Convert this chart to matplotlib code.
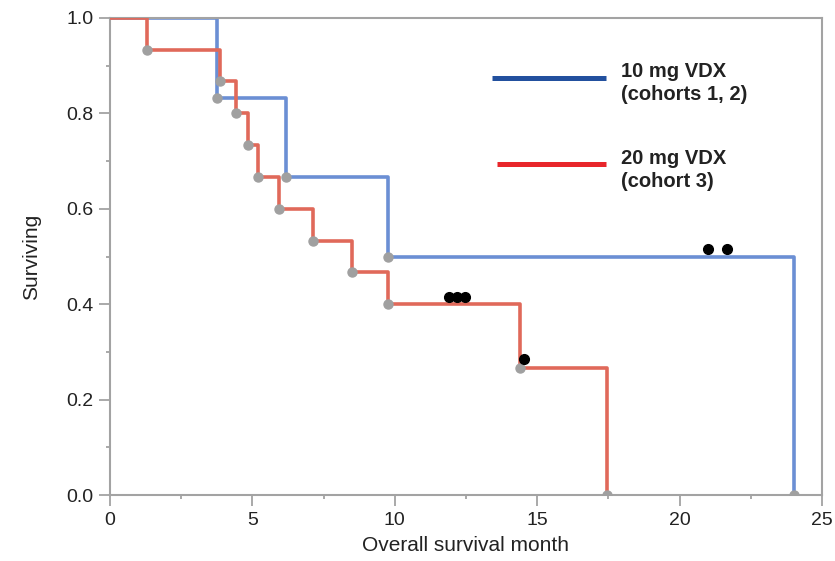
import matplotlib
matplotlib.use("Agg")
from matplotlib import pyplot as plt

plt.rcParams["font.family"] = ["Liberation Sans", "DejaVu Sans"]

# Kaplan-Meier steps
blue_times = [0.0, 3.76, 6.17, 9.75, 24.0]
blue_surv = [1.0, 0.833, 0.667, 0.5, 0.0]
blue_cens_x = [21.0, 21.65]
blue_cens_y = [0.516, 0.516]

red_times = [0.0, 1.3, 3.85, 4.42, 4.85, 5.2, 5.95, 7.13, 8.5, 9.75, 14.4, 17.45]
red_surv = [1.0, 0.933, 0.867, 0.8, 0.733, 0.667, 0.6, 0.533, 0.467, 0.4, 0.267, 0.0]
red_cens_x = [11.9, 12.2, 12.45, 14.53]
red_cens_y = [0.416, 0.416, 0.416, 0.285]

labels = ["10 mg VDX\n(cohorts 1, 2)", "20 mg VDX\n(cohort 3)"]

blue = "#6b8fd4"
red = "#e0695a"
gray = "#a0a0a0"
axcol = "#a3a3a3"
txt = "#222222"

fig = plt.figure(figsize=(8.35, 5.61), dpi=100)
ax = fig.add_axes([110 / 835, 66 / 561, 712 / 835, 477 / 561])

ax.step(blue_times, blue_surv, where="post", color=blue, lw=2.6, zorder=2)
ax.step(red_times, red_surv, where="post", color=red, lw=2.6, zorder=3)
ax.plot(blue_times[1:], blue_surv[1:], "o", color=gray, ms=6.5, zorder=4)
ax.plot(red_times[1:], red_surv[1:], "o", color=gray, ms=6.5, zorder=4)
ax.plot(blue_cens_x, blue_cens_y, "o", color="black", ms=7, zorder=5)
ax.plot(red_cens_x, red_cens_y, "o", color="black", ms=7, zorder=5)

ax.set_xlim(0, 25)
ax.set_ylim(0, 1.0)
ax.set_xticks([0, 5, 10, 15, 20, 25])
ax.set_xticks([2.5, 7.5, 12.5, 17.5, 22.5], minor=True)
ax.set_yticks([0.0, 0.2, 0.4, 0.6, 0.8, 1.0])
ax.set_yticklabels(["0.0", "0.2", "0.4", "0.6", "0.8", "1.0"])
ax.set_yticks([0.1, 0.3, 0.5, 0.7, 0.9], minor=True)
ax.tick_params(which="major", length=8, width=1.3, color=axcol, labelsize=14, labelcolor=txt, pad=4)
ax.tick_params(which="minor", length=3, width=1.3, color=axcol)
for s in ax.spines.values():
    s.set_color(axcol)
    s.set_linewidth(1.5)

ax.set_xlabel("Overall survival month", fontsize=15, color=txt, labelpad=5)
ax.set_ylabel("Surviving", fontsize=15, color=txt, labelpad=18)

# legend drawn by hand to match the two-line bold labels
ax.plot([0.5365, 0.6966], [0.8742, 0.8742], color="#22509e", lw=3.6,
        transform=ax.transAxes, solid_capstyle="butt")
ax.plot([0.5435, 0.6966], [0.6939, 0.6939], color="#e8262b", lw=3.6,
        transform=ax.transAxes, solid_capstyle="butt")
ax.text(0.7177, 0.828, labels[0], transform=ax.transAxes, fontsize=14.5,
        fontweight="bold", color=txt, va="baseline", ha="left", linespacing=1.28)
ax.text(0.7177, 0.6457, labels[1], transform=ax.transAxes, fontsize=14.5,
        fontweight="bold", color=txt, va="baseline", ha="left", linespacing=1.28)

fig.savefig("out.png", dpi=100)
